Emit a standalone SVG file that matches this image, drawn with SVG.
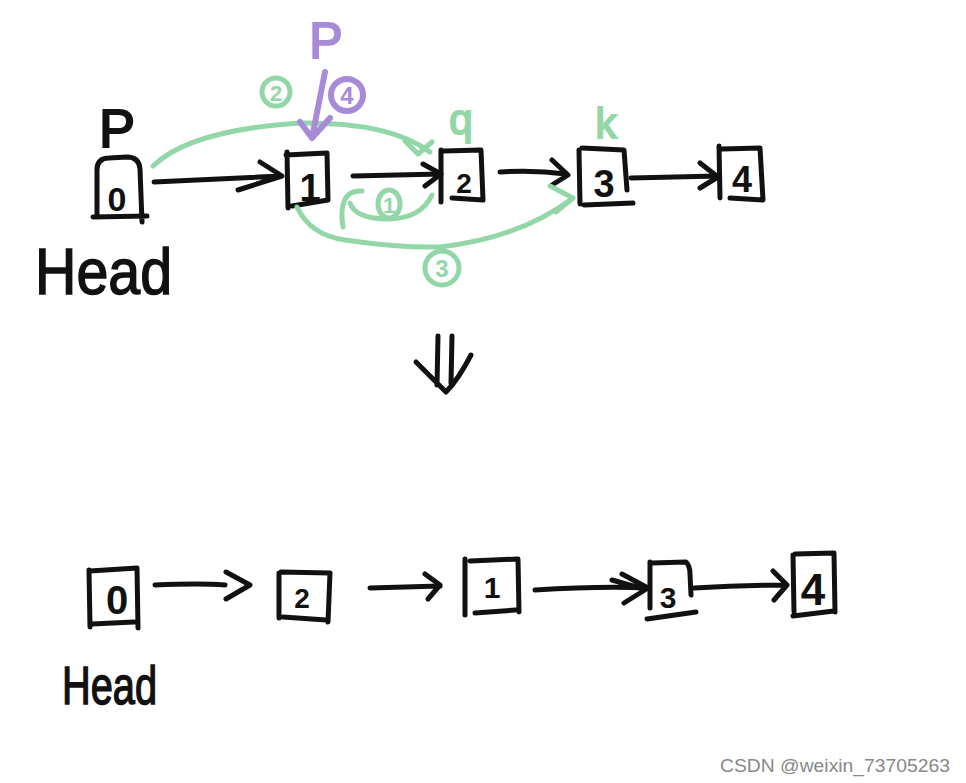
<svg xmlns="http://www.w3.org/2000/svg" width="966" height="783" viewBox="0 0 966 783">
<style>
.ink{fill:none;stroke:#111;stroke-width:5;stroke-linecap:round;stroke-linejoin:round}
.g{fill:none;stroke:#93d6a8;stroke-width:5;stroke-linecap:round;stroke-linejoin:round}
.pu{fill:none;stroke:#a78bd8;stroke-width:6;stroke-linecap:round;stroke-linejoin:round}
.t{font-family:"Liberation Sans",Arial,sans-serif;font-weight:bold;fill:#111;text-anchor:middle}
.h{font-family:"Liberation Sans",Arial,sans-serif;fill:#111;stroke:#111;stroke-width:1.5}
.gt{font-family:"Liberation Sans",Arial,sans-serif;font-weight:bold;fill:#93d6a8;text-anchor:middle}
.pt{font-family:"Liberation Sans",Arial,sans-serif;font-weight:bold;fill:#a78bd8;text-anchor:middle}
.n{font-weight:normal;stroke-width:2}
.t.n{stroke:#111}
.gt.n{stroke:#93d6a8}
.pt.n{stroke:#a78bd8}
</style>
<rect width="966" height="783" fill="#fff"/>

<!-- top row nodes -->
<g id="top-node0">
<path class="ink" d="M97,214 L97,170 Q97,158 109,158 L127,157 Q139,157 140,169 L142,222 M93,217 L147,216"/>
<text class="t" x="117" y="211" font-size="34">0</text>
</g>
<g id="top-label-p">
<text class="t n" x="117" y="147" font-size="54">P</text>
</g>
<g id="top-head">
<text class="h" x="35" y="294" font-size="64" textLength="137" lengthAdjust="spacingAndGlyphs">Head</text>
</g>
<g id="top-node1">
<path class="ink" d="M287,152 L288,208 M286,155 L327,153 L328,200 L292,206"/>
<text class="t" x="310" y="201" font-size="38">1</text>
</g>
<g id="top-node2">
<path class="ink" d="M441,150 L441,202 M444,151 L481,150 L483,200 L452,198"/>
<text class="t" x="464" y="193" font-size="28">2</text>
</g>
<g id="top-node3">
<path class="ink" d="M579,150 L580,204 M582,148 L624,150 L627,190 M584,205 L633,203"/>
<text class="t" x="604" y="197" font-size="38">3</text>
</g>
<g id="top-node4">
<path class="ink" d="M719,146 L720,198 M722,149 L760,148 L763,200 L730,198"/>
<text class="t" x="742" y="192" font-size="36">4</text>
</g>

<!-- green / purple annotations -->
<g id="label-q"><text class="gt n" x="461" y="134" font-size="42">q</text></g>
<g id="label-k"><text class="gt n" x="606" y="138" font-size="42">k</text></g>
<g id="label-step1">
<ellipse class="g" cx="389" cy="204" rx="11" ry="14" stroke-width="4"/>
<text class="gt" x="389" y="213" font-size="22">1</text>
</g>
<g id="label-step2">
<circle class="g" cx="276" cy="92" r="14" stroke-width="4"/>
<text class="gt" x="276" y="101" font-size="22">2</text>
</g>
<g id="label-step3">
<circle class="g" cx="442" cy="268" r="17" stroke-width="4"/>
<text class="gt" x="442" y="277" font-size="24">3</text>
</g>
<g id="label-step4">
<circle class="pu" cx="347" cy="95" r="16" stroke-width="4"/>
<text class="pt" x="347" y="104" font-size="24">4</text>
</g>
<g id="label-p-purple"><text class="pt n" x="326" y="58" font-size="50">P</text></g>

<!-- down arrow -->
<g id="down-arrow">
<path class="ink" stroke-width="7" d="M438,336 L437,385 M452,336 L451,383 M416,362 Q432,378 446,392 Q458,380 471,355"/>
</g>

<!-- bottom row nodes -->
<g id="bot-node0">
<path class="ink" d="M89,570 L90,627 M90,571 L137,568 L138,628 M92,624 L134,622"/>
<text class="t" x="117" y="614" font-size="40">0</text>
</g>
<g id="bot-head">
<text class="h" x="62" y="704" font-size="54" textLength="95" lengthAdjust="spacingAndGlyphs">Head</text>
</g>
<g id="bot-node2">
<path class="ink" d="M279,573 L279,618 M281,572 L330,573 L328,622 M283,617 L326,620"/>
<text class="t" x="302" y="608" font-size="28">2</text>
</g>
<g id="bot-node1">
<path class="ink" d="M465,559 L465,615 M470,561 L518,559 L519,612 M475,613 L516,610"/>
<text class="t" x="492" y="598" font-size="30">1</text>
</g>
<g id="bot-node3">
<path class="ink" d="M650,562 L650,608 M652,563 L686,562 Q690,566 690,574 L691,595 M647,619 L696,612"/>
<text class="t" x="668" y="608" font-size="30">3</text>
</g>
<g id="bot-node4">
<path class="ink" d="M793,555 L794,612 M795,554 L834,553 L835,612 M793,616 L834,611"/>
<text class="t" x="813" y="605" font-size="44">4</text>
</g>

<!-- connectors -->
<g id="connectors">
<path class="ink" d="M154,182 L280,176 M238,190 L282,176 L260,162"/>
<path class="ink" d="M353,176 L441,174 M423,164 L441,174 L425,186"/>
<path class="ink" d="M500,172 Q535,170 566,174 M552,160 L568,175 L552,185"/>
<path class="ink" stroke-width="6" d="M631,178 L718,176 M700,163 L718,177 L700,188"/>
<path class="ink" d="M155,585 Q200,583 225,585 M226,572 L250,585 L226,599"/>
<path class="ink" d="M370,588 L440,586 M425,574 L440,585 L428,599"/>
<path class="ink" d="M535,590 Q600,586 648,588 M622,574 L648,588 L624,603 M612,580 L640,588"/>
<path class="ink" d="M694,588 Q740,585 786,585 M773,571 L787,585 L774,600"/>
<path class="g" d="M153,166 Q190,130 300,123 Q390,122 430,152 M405,141 L418,154 L432,142"/>
<path class="g" d="M432,195 Q420,220 385,219 Q355,218 350,203 M343,227 Q340,210 345,199 Q350,190 362,191"/>
<path class="g" d="M297,207 Q310,235 345,240 Q400,248 440,247 Q520,238 573,198 M550,186 L573,198 L556,212"/>
<path class="pu" d="M325,72 L312,138 M300,122 L312,138 L330,118"/>
</g>

<text x="950" y="772" font-family="Liberation Sans,Arial,sans-serif" font-size="18" fill="#888" text-anchor="end" textLength="230" lengthAdjust="spacingAndGlyphs">CSDN @weixin_73705263</text>
</svg>
